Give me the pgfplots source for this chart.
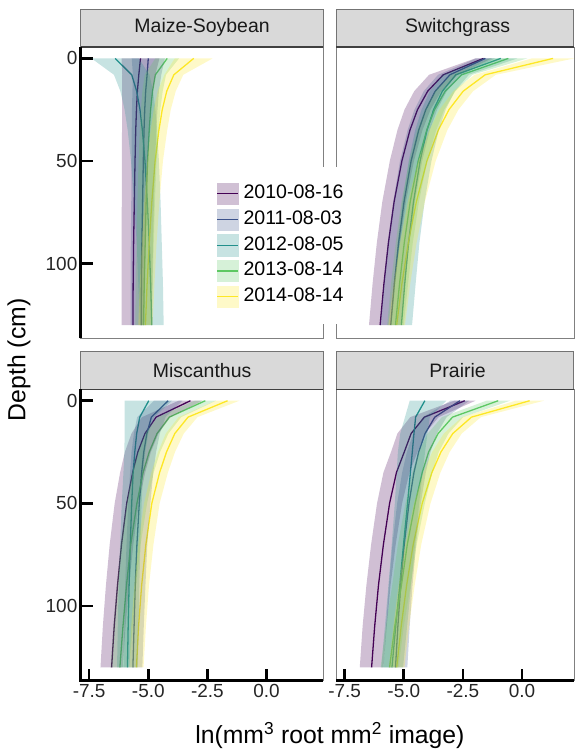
\documentclass[border=0pt]{standalone}
\usepackage{pgfplots}
\pgfplotsset{compat=1.18}
\usepackage{fontspec}
\setmainfont{Liberation Sans}

\definecolor{cA}{HTML}{440154}
\definecolor{cB}{HTML}{3B528B}
\definecolor{cC}{HTML}{21908C}
\definecolor{cD}{HTML}{5DC863}
\definecolor{cE}{HTML}{FDE725}
\definecolor{stripfill}{HTML}{D9D9D9}

\newcommand{\tickfont}{\fontsize{19bp}{22bp}\selectfont}
\newcommand{\stripfont}{\fontsize{19.5bp}{22bp}\selectfont}
\newcommand{\legfont}{\fontsize{19.6bp}{22bp}\selectfont}
\newcommand{\titlefont}{\fontsize{24.8bp}{28bp}\selectfont}

\pgfplotsset{
  ln/.style={line width=1.3bp},
  bd/.style={fill=#1, fill opacity=0.25, draw=none},
  panel/.style={
    scale only axis, height=292bp, anchor=south west,
    xmin=-7.85, ymin=-5.6, ymax=136.5, y dir=reverse,
    axis line style={draw=black!50, line width=0.8bp},
    tick align=inside, major tick length=12bp,
    tick style={black, line width=2.6bp},
    ticklabel style={font=\tickfont, text=black!85},
    xtick={-7.5,-5,-2.5,0}, xticklabels={-7.5,-5.0,-2.5,0.0},
    ytick={0,50,100}, yticklabels={0,50,100},
    xtick pos=bottom, ytick pos=left,
  },
  leftpanel/.style={panel, width=243bp, xmax=2.4},
  rightpanel/.style={panel, width=238bp, xmax=2.19},
  legkey/.style={legend image code/.code={\fill[#1!25] (0bp,-10.7bp) rectangle (21.4bp,10.7bp); \draw[#1, line width=1.3bp] (0.5bp,0bp)--(20.9bp,0bp);}},
}

\begin{document}
\begin{tikzpicture}[x=1bp,y=1bp]

% top-right: Switchgrass
\begin{axis}[rightpanel, at={(338bp,412bp)}, xtick=\empty, ytick=\empty]
\addplot[cA, ln] coordinates {(-1.63,0)(-3.33,8)(-3.99,16)(-4.42,25)(-4.74,35)(-5.08,50)(-5.41,70)(-5.65,90)(-5.84,110)(-6.00,130)};
\addplot[cB, ln] coordinates {(-1.55,0)(-3.05,8)(-3.67,16)(-4.07,25)(-4.37,35)(-4.69,50)(-4.99,70)(-5.22,90)(-5.40,110)(-5.55,130)};
\addplot[cC, ln] coordinates {(-0.90,0)(-2.80,8)(-3.37,16)(-3.74,25)(-4.02,35)(-4.31,50)(-4.59,70)(-4.80,90)(-4.96,110)(-5.10,130)};
\addplot[cD, ln] coordinates {(-0.58,0)(-2.55,8)(-3.25,16)(-3.70,25)(-4.03,35)(-4.39,50)(-4.73,70)(-4.98,90)(-5.18,110)(-5.35,130)};
\addplot[cE, ln] coordinates {(1.31,0)(-1.56,8)(-2.49,16)(-3.09,25)(-3.54,35)(-4.02,50)(-4.47,70)(-4.81,90)(-5.08,110)(-5.30,130)};
\addplot[bd=cA] coordinates {(-1.98,0)(-3.93,8)(-4.56,16)(-4.97,25)(-5.27,35)(-5.59,50)(-5.91,70)(-6.14,90)(-6.32,110)(-6.47,130)(-5.53,130)(-5.36,110)(-5.16,90)(-4.91,70)(-4.57,50)(-4.21,35)(-3.87,25)(-3.42,16)(-2.73,8)(-1.28,0)};
\addplot[bd=cB] coordinates {(-1.95,0)(-3.55,8)(-4.16,16)(-4.55,25)(-4.84,35)(-5.16,50)(-5.45,70)(-5.68,90)(-5.85,110)(-6.00,130)(-5.10,130)(-4.95,110)(-4.76,90)(-4.53,70)(-4.22,50)(-3.90,35)(-3.59,25)(-3.18,16)(-2.55,8)(-1.15,0)};
\addplot[bd=cC] coordinates {(-1.60,0)(-3.35,8)(-3.90,16)(-4.25,25)(-4.52,35)(-4.79,50)(-5.06,70)(-5.26,90)(-5.42,110)(-5.55,130)(-4.65,130)(-4.50,110)(-4.34,90)(-4.12,70)(-3.83,50)(-3.52,35)(-3.23,25)(-2.84,16)(-2.25,8)(-0.20,0)};
\addplot[bd=cD] coordinates {(-1.38,0)(-3.00,8)(-3.68,16)(-4.11,25)(-4.43,35)(-4.77,50)(-5.10,70)(-5.34,90)(-5.54,110)(-5.70,130)(-5.00,130)(-4.82,110)(-4.62,90)(-4.36,70)(-4.01,50)(-3.63,35)(-3.29,25)(-2.82,16)(-2.10,8)(0.22,0)};
\addplot[bd=cE] coordinates {(0.41,0)(-2.01,8)(-2.91,16)(-3.49,25)(-3.92,35)(-4.39,50)(-4.83,70)(-5.16,90)(-5.43,110)(-5.65,130)(-4.95,130)(-4.73,110)(-4.46,90)(-4.11,70)(-3.65,50)(-3.16,35)(-2.69,25)(-2.07,16)(-1.11,8)(2.21,0)};
\end{axis}

% top-left: Maize-Soybean
\begin{axis}[leftpanel, at={(82bp,412bp)}, xtick=\empty]
\addplot[cA, ln] coordinates {(-5.33,0)(-5.40,8)(-5.46,16)(-5.50,25)(-5.53,35)(-5.56,50)(-5.59,70)(-5.62,90)(-5.64,110)(-5.65,130)};
\addplot[cB, ln] coordinates {(-5.00,0)(-5.05,8)(-5.11,16)(-5.15,25)(-5.18,35)(-5.21,50)(-5.24,70)(-5.27,90)(-5.29,110)(-5.30,130)};
\addplot[cC, ln] coordinates {(-6.40,0)(-5.70,8)(-5.49,16)(-5.35,25)(-5.25,35)(-5.14,50)(-5.04,70)(-4.96,90)(-4.90,110)(-4.85,130)};
\addplot[cD, ln] coordinates {(-4.20,0)(-4.70,8)(-4.82,16)(-4.90,25)(-4.96,35)(-5.03,50)(-5.09,70)(-5.13,90)(-5.17,110)(-5.20,130)};
\addplot[cE, ln] coordinates {(-3.08,0)(-3.92,8)(-4.22,16)(-4.41,25)(-4.55,35)(-4.71,50)(-4.85,70)(-4.96,90)(-5.05,110)(-5.12,130)};
\addplot[bd=cA] coordinates {(-6.13,0)(-6.10,8)(-6.11,16)(-6.11,25)(-6.11,35)(-6.12,50)(-6.12,70)(-6.13,90)(-6.13,110)(-6.13,130)(-5.17,130)(-5.15,110)(-5.11,90)(-5.06,70)(-5.00,50)(-4.95,35)(-4.89,25)(-4.81,16)(-4.70,8)(-4.53,0)};
\addplot[bd=cB] coordinates {(-5.70,0)(-5.65,8)(-5.67,16)(-5.69,25)(-5.70,35)(-5.71,50)(-5.72,70)(-5.74,90)(-5.75,110)(-5.75,130)(-4.85,130)(-4.83,110)(-4.80,90)(-4.76,70)(-4.71,50)(-4.66,35)(-4.61,25)(-4.55,16)(-4.45,8)(-4.30,0)};
\addplot[bd=cC] coordinates {(-7.40,0)(-6.45,8)(-6.18,16)(-6.00,25)(-5.87,35)(-5.73,50)(-5.60,70)(-5.49,90)(-5.42,110)(-5.35,130)(-4.35,130)(-4.38,110)(-4.43,90)(-4.48,70)(-4.55,50)(-4.63,35)(-4.70,25)(-4.80,16)(-4.95,8)(-5.40,0)};
\addplot[bd=cD] coordinates {(-4.70,0)(-5.15,8)(-5.25,16)(-5.31,25)(-5.36,35)(-5.41,50)(-5.46,70)(-5.49,90)(-5.53,110)(-5.55,130)(-4.85,130)(-4.81,110)(-4.77,90)(-4.72,70)(-4.65,50)(-4.56,35)(-4.49,25)(-4.39,16)(-4.25,8)(-3.70,0)};
\addplot[bd=cE] coordinates {(-3.88,0)(-4.32,8)(-4.60,16)(-4.77,25)(-4.90,35)(-5.04,50)(-5.17,70)(-5.27,90)(-5.36,110)(-5.42,130)(-4.82,130)(-4.74,110)(-4.65,90)(-4.53,70)(-4.38,50)(-4.20,35)(-4.05,25)(-3.84,16)(-3.52,8)(-2.28,0)};
\end{axis}

% bottom-left: Miscanthus
\begin{axis}[leftpanel, at={(82bp,69bp)}]
\addplot[cA, ln] coordinates {(-3.22,0)(-4.67,8)(-5.14,16)(-5.44,25)(-5.66,35)(-5.91,50)(-6.13,70)(-6.30,90)(-6.44,110)(-6.55,130)};
\addplot[cB, ln] coordinates {(-4.16,0)(-4.87,8)(-5.06,16)(-5.19,25)(-5.28,35)(-5.38,50)(-5.48,70)(-5.55,90)(-5.60,110)(-5.65,130)};
\addplot[cC, ln] coordinates {(-4.98,0)(-5.36,8)(-5.49,16)(-5.57,25)(-5.64,35)(-5.70,50)(-5.76,70)(-5.81,90)(-5.85,110)(-5.88,130)};
\addplot[cD, ln] coordinates {(-2.59,0)(-4.11,8)(-4.63,16)(-4.96,25)(-5.22,35)(-5.48,50)(-5.74,70)(-5.92,90)(-6.07,110)(-6.20,130)};
\addplot[cE, ln] coordinates {(-1.65,0)(-3.32,8)(-3.88,16)(-4.23,25)(-4.52,35)(-4.85,50)(-5.10,70)(-5.28,90)(-5.41,110)(-5.50,130)};
\addplot[bd=cA] coordinates {(-3.72,0)(-5.27,8)(-5.71,16)(-5.99,25)(-6.19,35)(-6.42,50)(-6.63,70)(-6.79,90)(-6.92,110)(-7.02,130)(-6.08,130)(-5.96,110)(-5.81,90)(-5.63,70)(-5.40,50)(-5.13,35)(-4.89,25)(-4.57,16)(-4.07,8)(-2.72,0)};
\addplot[bd=cB] coordinates {(-4.76,0)(-5.47,8)(-5.61,16)(-5.71,25)(-5.77,35)(-5.85,50)(-5.92,70)(-5.98,90)(-6.01,110)(-6.05,130)(-5.25,130)(-5.19,110)(-5.12,90)(-5.04,70)(-4.91,50)(-4.79,35)(-4.67,25)(-4.51,16)(-4.27,8)(-3.56,0)};
\addplot[bd=cC] coordinates {(-6.00,0)(-6.00,8)(-6.00,16)(-6.01,25)(-6.05,35)(-6.12,50)(-6.19,70)(-6.25,90)(-6.29,110)(-6.32,130)(-5.44,130)(-5.41,110)(-5.38,90)(-5.33,70)(-5.28,50)(-5.22,35)(-5.13,25)(-5.00,16)(-4.75,8)(-4.00,0)};
\addplot[bd=cD] coordinates {(-3.04,0)(-4.61,8)(-5.11,16)(-5.42,25)(-5.67,35)(-5.91,50)(-6.16,70)(-6.33,90)(-6.48,110)(-6.60,130)(-5.80,130)(-5.66,110)(-5.51,90)(-5.32,70)(-5.05,50)(-4.77,35)(-4.50,25)(-4.15,16)(-3.61,8)(-2.14,0)};
\addplot[bd=cE] coordinates {(-2.15,0)(-3.72,8)(-4.26,16)(-4.59,25)(-4.87,35)(-5.18,50)(-5.42,70)(-5.59,90)(-5.72,110)(-5.80,130)(-5.20,130)(-5.10,110)(-4.97,90)(-4.78,70)(-4.52,50)(-4.17,35)(-3.87,25)(-3.50,16)(-2.92,8)(-1.15,0)};
\end{axis}

% bottom-right: Prairie
\begin{axis}[rightpanel, at={(338bp,69bp)}, ytick=\empty]
\addplot[cA, ln] coordinates {(-2.42,0)(-4.13,8)(-4.69,16)(-4.98,25)(-5.31,35)(-5.60,50)(-5.86,70)(-6.07,90)(-6.23,110)(-6.36,130)};
\addplot[cB, ln] coordinates {(-2.63,0)(-3.69,8)(-4.10,16)(-4.37,25)(-4.57,35)(-4.78,50)(-4.98,70)(-5.13,90)(-5.25,110)(-5.35,130)};
\addplot[cC, ln] coordinates {(-4.11,0)(-4.50,8)(-4.57,16)(-4.64,25)(-4.72,35)(-4.84,50)(-5.01,70)(-5.17,90)(-5.34,110)(-5.50,130)};
\addplot[cD, ln] coordinates {(-1.01,0)(-2.94,8)(-3.55,16)(-3.95,25)(-4.22,35)(-4.52,50)(-4.85,70)(-5.10,90)(-5.38,110)(-5.60,130)};
\addplot[cE, ln] coordinates {(0.32,0)(-2.14,8)(-2.93,16)(-3.43,25)(-3.81,35)(-4.22,50)(-4.60,70)(-4.88,90)(-5.11,110)(-5.30,130)};
\addplot[bd=cA] coordinates {(-2.87,0)(-4.73,8)(-5.27,16)(-5.54,25)(-5.86,35)(-6.13,50)(-6.38,70)(-6.58,90)(-6.74,110)(-6.86,130)(-5.86,130)(-5.72,110)(-5.56,90)(-5.34,70)(-5.07,50)(-4.76,35)(-4.42,25)(-4.11,16)(-3.53,8)(-1.97,0)};
\addplot[bd=cB] coordinates {(-3.03,0)(-4.19,8)(-4.60,16)(-4.87,25)(-5.07,35)(-5.28,50)(-5.48,70)(-5.63,90)(-5.75,110)(-5.85,130)(-4.85,130)(-4.75,110)(-4.63,90)(-4.48,70)(-4.28,50)(-4.07,35)(-3.87,25)(-3.60,16)(-3.19,8)(-2.23,0)};
\addplot[bd=cC] coordinates {(-4.75,0)(-4.95,8)(-5.15,16)(-5.25,25)(-5.30,35)(-5.38,50)(-5.51,70)(-5.65,90)(-5.80,110)(-5.95,130)(-5.03,130)(-4.86,110)(-4.69,90)(-4.52,70)(-4.35,50)(-4.20,35)(-4.10,25)(-4.00,16)(-3.90,8)(-3.20,0)};
\addplot[bd=cD] coordinates {(-1.51,0)(-3.39,8)(-3.99,16)(-4.38,25)(-4.64,35)(-4.93,50)(-5.25,70)(-5.49,90)(-5.76,110)(-5.98,130)(-5.22,130)(-5.00,110)(-4.71,90)(-4.45,70)(-4.11,50)(-3.80,35)(-3.52,25)(-3.11,16)(-2.49,8)(-0.51,0)};
\addplot[bd=cE] coordinates {(-0.28,0)(-2.54,8)(-3.31,16)(-3.80,25)(-4.17,35)(-4.57,50)(-4.94,70)(-5.22,90)(-5.44,110)(-5.63,130)(-4.97,130)(-4.78,110)(-4.54,90)(-4.26,70)(-3.87,50)(-3.45,35)(-3.06,25)(-2.55,16)(-1.74,8)(0.92,0)};
\end{axis}

% strips
\foreach \sx/\sy/\sw/\lab in {82/704/243/Maize-Soybean, 338/704/238/Switchgrass, 82/361/243/Miscanthus, 338/361/238/Prairie}{
  \filldraw[fill=stripfill, draw=black!55, line width=0.8bp] (\sx,\sy) rectangle ++(\sw,38);
  \draw[black!75, line width=1.2bp] (\sx,\sy) -- ++(\sw,0);
  \node[font=\stripfont, text=black!90] at (\sx+121.5,\sy+19) {\lab};
}

% thick axis lines
\draw[black, line width=3bp] (82,412) -- (82,704);
\draw[black, line width=3bp] (82,69) -- (82,361);
\draw[black, line width=3bp] (80.5,69) -- (325,69);
\draw[black, line width=3bp] (338,69) -- (576,69);

% axis titles
\node[font=\titlefont, rotate=90] at (20,390.5) {Depth (cm)};
\node[font=\titlefont] at (331.5,14) {ln(mm\textsuperscript{3} root mm\textsuperscript{2} image)};

% legend
\begin{axis}[hide axis, scale only axis, width=576bp, height=752bp, at={(0bp,0bp)}, anchor=south west,
  xmin=0, xmax=576, ymin=0, ymax=752,
  legend cell align=left,
  legend style={at={(axis cs:213,584)}, anchor=north west, draw=none, fill=white,
    font=\legfont, inner xsep=5bp, inner ysep=16bp, row sep=4bp, column sep=4bp,
    nodes={inner sep=1bp, text height=14bp, text depth=4bp}}]
\addplot[draw=none, forget plot] coordinates {(1,1) (575,751)};
\addlegendimage{legkey=cA}
\addlegendentry{2010-08-16}
\addlegendimage{legkey=cB}
\addlegendentry{2011-08-03}
\addlegendimage{legkey=cC}
\addlegendentry{2012-08-05}
\addlegendimage{legkey=cD}
\addlegendentry{2013-08-14}
\addlegendimage{legkey=cE}
\addlegendentry{2014-08-14}
\end{axis}
\end{tikzpicture}
\end{document}
